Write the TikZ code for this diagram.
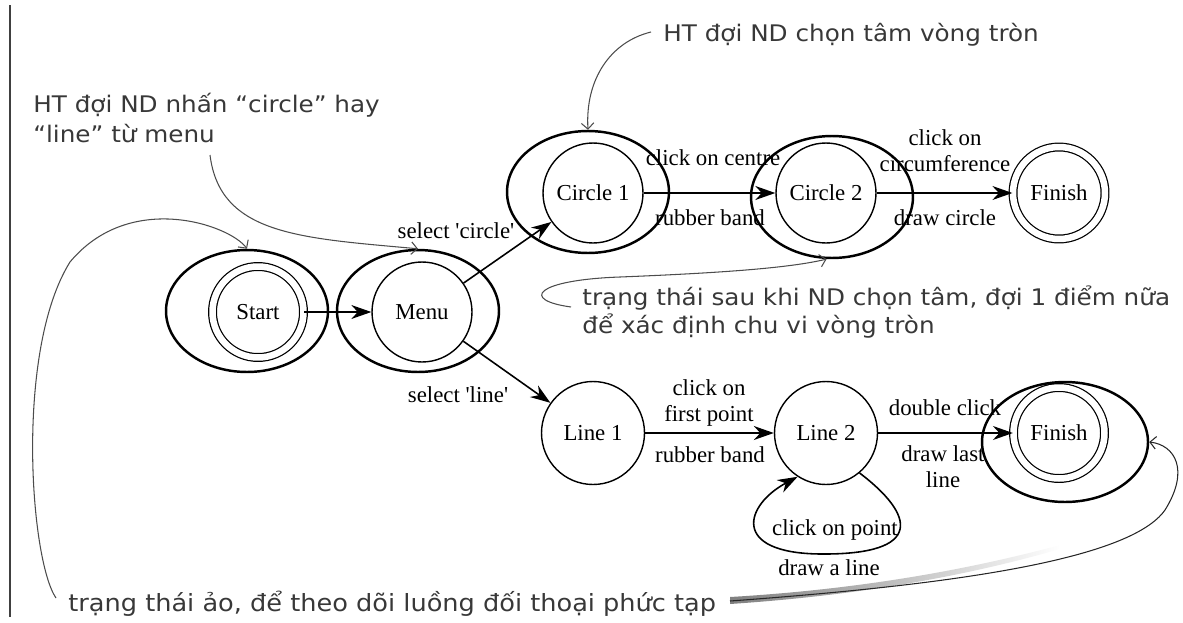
\documentclass[tikz,border=0pt]{standalone}
\usepackage{fontspec}
\setmainfont{Liberation Serif}
\newfontfamily\notefont[FakeStretch=1.08]{DejaVu Sans}
\usetikzlibrary{arrows.meta,shapes.geometric}

\begin{document}
\begin{tikzpicture}[x=0.02cm,y=-0.02cm,
    every node/.style={font=\fontsize{13}{15}\selectfont},
    state/.style={circle,draw,line width=0.8pt,minimum size=2cm,inner sep=0pt},
    final/.style={circle,draw,line width=0.7pt,double,double distance=0.13cm,minimum size=1.82cm,inner sep=0pt},
    group/.style={ellipse,draw,line width=1.4pt,minimum width=3.24cm,minimum height=2.44cm},
    trans/.style={line width=0.9pt,-{Stealth[length=0.4cm,width=0.28cm]}},
    note/.style={text=black!78,align=left,inner sep=0pt,font=\notefont\fontsize{13}{17}\selectfont},
    pointer/.style={draw=black!70,line width=0.6pt,-{Straight Barb[length=0.12cm,width=0.25cm]}}]
    \useasboundingbox (0,0) rectangle (1183,622);
    \draw[line width=1.4pt,black!75] (10,5) -- (10,617);

    % groups of states
    \node[group] (startout) at (247,311) {};
    \node[group] (menuout) at (418,311) {};
    \node[group] (circaout) at (588,192) {};
    \node[group] (circbout) at (832,197) {};
    \node[group,minimum width=3.32cm,minimum height=2.4cm] (finlout) at (1065,442) {};

    % states
    \node[final] (start) at (258,312) {Start};
    \node[state] (menu) at (422,312) {Menu};
    \node[state] (circa) at (593,193) {Circle 1};
    \node[state] (circb) at (826,193) {Circle 2};
    \node[final,minimum size=1.84cm] (finc) at (1059,193) {Finish};
    \node[state,minimum size=2.06cm] (linea) at (593,433) {Line 1};
    \node[state,minimum size=2.06cm] (lineb) at (826,433) {Line 2};
    \node[final] (finl) at (1059,433) {Finish};

    % transitions
    \draw[trans,line width=0.6pt] (start) -- (menu);
    \draw[trans] (menu) -- (circa);
    \draw[trans] (menu) -- (linea);
    \draw[trans] (circa) -- (circb);
    \draw[trans] (circb) -- (finc);
    \draw[trans] (linea) -- (lineb);
    \draw[trans] (lineb) -- (finl);
    \draw[trans] (lineb.-50) .. controls (915,515) and (925,555) .. (820,554) .. controls (730,553) and (745,505) .. (lineb.-123);

    \node (lselc) at (456,231) {select \textquotesingle circle\textquotesingle};
    \node (lsell) at (458,395) {select \textquotesingle line\textquotesingle};
    \node (lcentre) at (713,158) {click on centre};
    \node (lrubc) at (710,218) {rubber band};
    \node[align=center] (lcircum) at (945,151) {click on\\circumference};
    \node (ldrawc) at (945,218) {draw circle};
    \node[align=center] (lfirst) at (709,403) {click on\\first point};
    \node (lrubl) at (710,455) {rubber band};
    \node (ldouble) at (945,408) {double click};
    \node[align=center] (llast) at (943,467) {draw last\\line};
    \node (lpoint) at (835,530) {click on point};
    \node (ldrawl) at (829,568) {draw a line};

    % notes
    \node[note,anchor=west] (notemenu) at (33,118) {HT đợi ND nhấn “circle” hay\\“line” từ menu};
    \node[note,anchor=west] (notecentre) at (663,35) {HT đợi ND chọn tâm vòng tròn};
    \node[note,anchor=west,font=\notefont\fontsize{13}{16}\selectfont] (notecirc) at (582,312) {trạng thái sau khi ND chọn tâm, đợi 1 điểm nữa\\để xác định chu vi vòng tròn};
    \node[note,anchor=west,font=\notefont\fontsize{13.5}{17}\selectfont] (notevirt) at (68,604) {trạng thái ảo, để theo dõi luồng đối thoại phức tạp};

    \coordinate (pmenu) at (210,155);
    \coordinate (pstart) at (56,598);
    \coordinate (pcentre) at (651,32);
    \coordinate (pcirc) at (571,307);
    \coordinate (pvirt) at (730,601);

    \draw[pointer] (pmenu) .. controls (220,235) and (300,238) .. (menuout.north);
    \draw[pointer] (pstart) .. controls (30,560) and (15,350) .. (70,262) .. controls (130,190) and (230,225) .. (startout.north);
    \draw[pointer] (pcentre) .. controls (610,42) and (585,80) .. (circaout.north);
    \draw[pointer] (pcirc) .. controls (520,300) and (535,280) .. (620,277) .. controls (720,273) and (790,268) .. (circbout.-95);
    \shade[left color=black!50,right color=white] (730,597) .. controls (850,590) and (960,572) .. (1060,545) -- (1060,549) .. controls (960,578) and (850,596) .. (730,604) -- cycle;
    \draw[pointer,draw=black!85] (pvirt) .. controls (950,585) and (1130,560) .. (1165,510) .. controls (1190,470) and (1175,445) .. (finlout.east);
\end{tikzpicture}
\end{document}
